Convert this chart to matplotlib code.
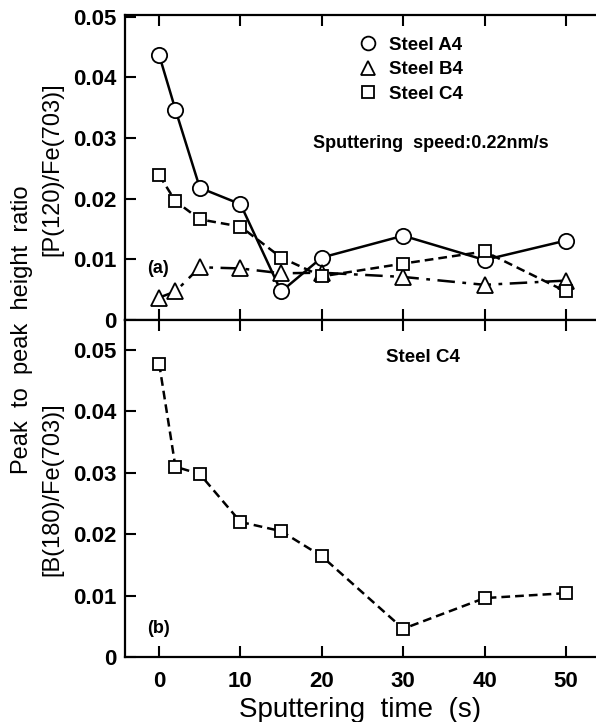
import matplotlib
matplotlib.use("Agg")
import matplotlib.pyplot as plt

plt.rcParams["font.family"] = ["Liberation Sans", "DejaVu Sans"]

TIME = [0, 2, 5, 10, 15, 20, 30, 40, 50]

# panel (a): P(120)/Fe(703)
STEEL_A4 = [0.0437, 0.0347, 0.0218, 0.0191, 0.0047, 0.0103, 0.0139, 0.0099, 0.0131]
STEEL_B4 = [0.0037, 0.0047, 0.0087, 0.0085, 0.0077, 0.0078, 0.0071, 0.0058, 0.0065]
STEEL_C4 = [0.0239, 0.0196, 0.0166, 0.0154, 0.0103, 0.0072, 0.0093, 0.0113, 0.0047]

# panel (b): B(180)/Fe(703), steel C4
BORON_C4 = [0.0478, 0.0310, 0.0298, 0.0220, 0.0205, 0.0164, 0.0046, 0.0096, 0.0104]

YTICKS = [0, 0.01, 0.02, 0.03, 0.04, 0.05]
YTICKLABELS = ["0", "0.01", "0.02", "0.03", "0.04", "0.05"]
XTICKS = [0, 10, 20, 30, 40, 50]

fig = plt.figure(figsize=(5.96, 7.22), dpi=100)
ax1 = fig.add_axes([0.2097, 0.5568, 0.7903, 0.4224])
ax2 = fig.add_axes([0.2097, 0.0900, 0.7903, 0.4668])

mk = dict(markersize=11, markerfacecolor="white", markeredgecolor="black",
          markeredgewidth=1.3, color="black", linewidth=1.8)

ax1.plot(TIME, STEEL_A4, marker="o", linestyle="-", label="Steel A4", **mk)
ax1.plot(TIME, STEEL_B4, marker="^", linestyle=(0, (7, 3, 1.5, 3)), label="Steel B4", **mk)
ax1.plot(TIME, STEEL_C4, marker="s", linestyle=(0, (3.5, 2)), label="Steel C4",
         **{**mk, "markersize": 9})

ax2.plot(TIME, BORON_C4, marker="s", linestyle=(0, (3.5, 2)), **{**mk, "markersize": 9})

for ax, top in ((ax1, 0.0503), (ax2, 0.0549)):
    ax.set_xlim(-4.2, 53.7)
    ax.set_ylim(0, top)
    ax.set_yticks(YTICKS)
    ax.set_yticklabels(YTICKLABELS, fontsize=16, fontweight="bold")
    ax.set_xticks(XTICKS)
    ax.tick_params(direction="in", length=8, width=1.5, top=True, right=False)
    ax.tick_params(axis="y", pad=6)
    ax.spines["right"].set_visible(False)
    for s in ("left", "top", "bottom"):
        ax.spines[s].set_linewidth(1.6)

ax1.tick_params(axis="x", labelbottom=False)
ax2.set_xticklabels([str(t) for t in XTICKS], fontsize=16, fontweight="bold")
ax2.tick_params(axis="x", pad=10)

ax1.legend(loc="upper left", bbox_to_anchor=(0.48, 0.985), frameon=False,
           handlelength=0, handletextpad=1.1, labelspacing=0.4,
           prop={"size": 13.5, "weight": "bold"}, markerscale=0.9)
ax1.text(0.40, 0.58, "Sputtering  speed:0.22nm/s", transform=ax1.transAxes,
         fontsize=13, fontweight="bold", va="center")
ax1.text(0.048, 0.17, "(a)", transform=ax1.transAxes, fontsize=13,
         fontweight="bold", va="center")

ax2.text(0.554, 0.89, "Steel C4", transform=ax2.transAxes, fontsize=13.5,
         fontweight="bold", va="center")
ax2.text(0.046, 0.086, "(b)", transform=ax2.transAxes, fontsize=13,
         fontweight="bold", va="center")

ax2.set_xlabel("Sputtering  time  (s)", fontsize=20, labelpad=4)

fig.text(0.037, 0.543, "Peak  to  peak  height  ratio", rotation=90, fontsize=17,
         ha="center", va="center")
fig.text(0.088, 0.765, "[P(120)/Fe(703)]", rotation=90, fontsize=17,
         ha="center", va="center")
fig.text(0.088, 0.322, "[B(180)/Fe(703)]", rotation=90, fontsize=17,
         ha="center", va="center")

fig.savefig("out.png", dpi=100)
